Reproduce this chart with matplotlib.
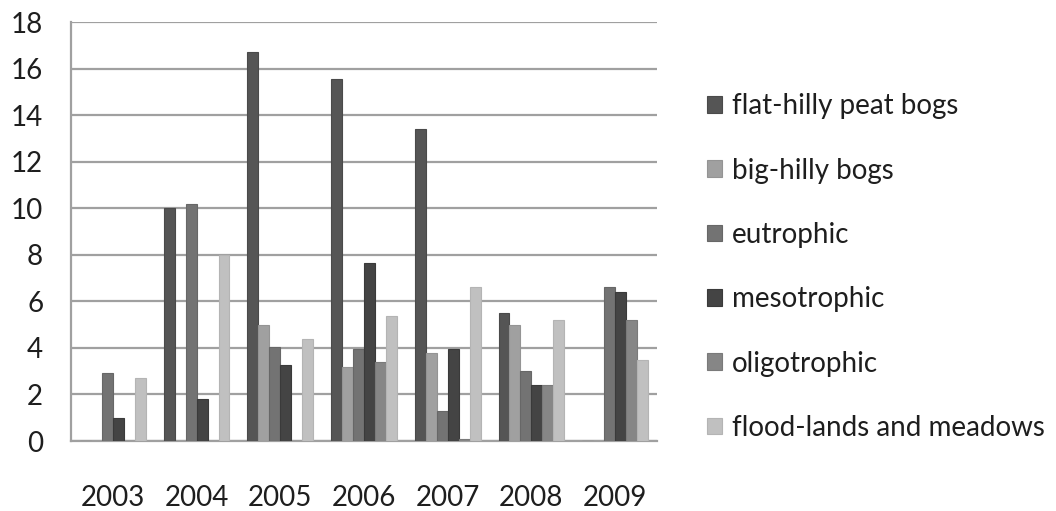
import matplotlib
matplotlib.use("Agg")
import matplotlib.pyplot as plt
import numpy as np
from matplotlib.patches import Patch

years = ["2003", "2004", "2005", "2006", "2007", "2008", "2009"]
series_names = [
    "flat-hilly peat bogs",
    "big-hilly bogs",
    "eutrophic",
    "mesotrophic",
    "oligotrophic",
    "flood-lands and meadows",
]
flat_hilly = [0, 10.0, 16.7, 15.55, 13.4, 5.5, 0]
big_hilly = [0, 0, 5.0, 3.2, 3.8, 5.0, 0]
eutrophic = [2.9, 10.2, 4.05, 3.95, 1.3, 3.0, 6.6]
mesotrophic = [1.0, 1.8, 3.25, 7.65, 3.95, 2.4, 6.4]
oligotrophic = [0, 0, 0, 3.4, 0.07, 2.4, 5.2]
flood_lands = [2.7, 8.0, 4.4, 5.35, 6.6, 5.2, 3.5]

all_series = [flat_hilly, big_hilly, eutrophic, mesotrophic, oligotrophic, flood_lands]
colors = ["#555555", "#a0a0a0", "#737373", "#444444", "#868686", "#c0c0c0"]
edges = ["#4a4a4a", "#949494", "#676767", "#3a3a3a", "#7a7a7a", "#b4b4b4"]

plt.rcParams["font.family"] = ["Lato", "DejaVu Sans"]

fig = plt.figure(figsize=(10.56, 5.11), dpi=100)
ax = fig.add_axes([71 / 1056, 1 - 441 / 511, (657 - 71) / 1056, (441 - 22) / 511])

x = np.arange(len(years))
w = 0.131
for i, (vals, c, ec) in enumerate(zip(all_series, colors, edges)):
    ax.bar(x + (i - 2.5) * w, vals, width=w, color=c, edgecolor=ec,
           linewidth=0.8, zorder=3)

ax.set_xlim(-0.5, 6.5)
ax.set_ylim(0, 18)
ax.set_yticks(np.arange(0, 19, 2))
ax.set_xticks(x)
ax.set_xticklabels(years)
ax.grid(axis="y", color="#a0a0a0", linewidth=1.6, zorder=0)
ax.set_axisbelow(True)
for s in ["top", "right"]:
    ax.spines[s].set_visible(False)
for s in ["left", "bottom"]:
    ax.spines[s].set_color("#a0a0a0")
    ax.spines[s].set_linewidth(1.6)
ax.tick_params(axis="both", length=0, labelsize=20, labelcolor="#1e1e1e")
ax.tick_params(axis="y", pad=20)
ax.tick_params(axis="x", pad=32)

handles = [Patch(facecolor=c, edgecolor=ec, linewidth=0.8) for c, ec in zip(colors, edges)]
fig.legend(handles, series_names, loc="center left",
           bbox_to_anchor=(707 / 1056, 1 - 267 / 511),
           frameon=False, fontsize=20, labelcolor="#1e1e1e",
           handlelength=0.55, handleheight=0.55, handletextpad=0.35,
           labelspacing=1.38, borderpad=0, borderaxespad=0)

fig.savefig("out.png", dpi=100)
